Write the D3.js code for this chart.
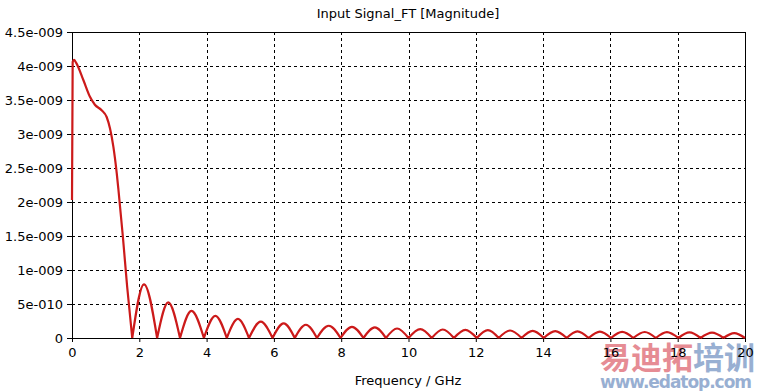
<!DOCTYPE html>
<html>
<head>
<meta charset="utf-8">
<script src="https://cdn.jsdelivr.net/npm/d3@7"></script>
<style>
  body { margin: 0; background: #fff; }
  svg { display: block; font-family: "DejaVu Sans", sans-serif; }
</style>
</head>
<body>
<svg id="chart" width="759" height="391"></svg>
<script>
// frequency in GHz, magnitude in units of 1e-9
const freq = [
  0, 0.02, 0.06, 0.12, 0.34, 0.53, 0.68, 0.88, 1.03, 1.13, 1.23, 1.33, 1.38, 1.51, 1.64, 1.79,
  2.14, 2.53, 2.86, 3.21, 3.55, 3.92, 4.26, 4.60, 4.93, 5.26, 5.61, 5.96, 6.29, 6.62,
  6.95, 7.28, 7.63, 7.98, 8.32, 8.66, 9.00, 9.33, 9.66, 10.00, 10.35, 10.69, 11.02, 11.35,
  11.69, 12.03, 12.36, 12.68, 13.02, 13.36, 13.69, 14.02, 14.36, 14.70, 15.02, 15.35,
  15.69, 16.02, 16.35, 16.68, 17.02, 17.35, 17.68, 18.02, 18.35, 18.68, 19.02, 19.36,
  19.68, 20.00
];
const magnitude = [
  2.03, 4.06, 4.09, 4.05, 3.79, 3.55, 3.43, 3.35, 3.25, 3.08, 2.81, 2.42, 2.18, 1.50, 0.75, 0,
  0.79, 0, 0.525, 0, 0.40, 0, 0.325, 0, 0.28, 0, 0.24, 0, 0.215, 0,
  0.195, 0, 0.18, 0, 0.165, 0, 0.155, 0, 0.14, 0, 0.13, 0, 0.125, 0,
  0.12, 0, 0.115, 0, 0.11, 0, 0.105, 0, 0.10, 0, 0.098, 0,
  0.095, 0, 0.09, 0, 0.088, 0, 0.085, 0, 0.082, 0, 0.078, 0,
  0.072, 0
];
const xTicks = [0, 2, 4, 6, 8, 10, 12, 14, 16, 18, 20];
const yTicks = [0, 0.5, 1, 1.5, 2, 2.5, 3, 3.5, 4, 4.5];
const yTickLabels = ['0', '5e-010', '1e-009', '1.5e-009', '2e-009', '2.5e-009', '3e-009', '3.5e-009', '4e-009', '4.5e-009'];

const svg = d3.select('#chart');
const width = +svg.attr('width');
const height = +svg.attr('height');
const margin = {top: 32, right: 14, bottom: 53, left: 72};

const x = d3.scaleLinear().domain([0, 20]).range([margin.left, width - margin.right]);
const y = d3.scaleLinear().domain([0, 4.5]).range([height - margin.bottom, margin.top]);

// watermark (under everything else)
const wm = svg.append('g').attr('opacity', 0.8);
wm.append('text')
  .attr('x', 600).attr('y', 369)
  .style('font-size', '31px').style('font-weight', 'bold')
  .style('font-family', '"Noto Sans CJK SC", sans-serif')
  .html('<tspan fill="#e0707a">易迪拓</tspan><tspan fill="#7f9cc8">培训</tspan>');
wm.append('text')
  .attr('x', 600).attr('y', 388)
  .attr('fill', '#7f9cc8')
  .attr('textLength', 152)
  .style('font-size', '17px').style('font-weight', 'bold')
  .style('font-family', '"DejaVu Sans", sans-serif')
  .text('www.edatop.com');

// grid
const grid = svg.append('g').attr('stroke', '#000').attr('stroke-dasharray', '3,3').attr('shape-rendering', 'crispEdges');
grid.selectAll('.vg').data(xTicks.slice(1, -1)).enter().append('line')
  .attr('x1', d => Math.round(x(d)) + 0.5).attr('x2', d => Math.round(x(d)) + 0.5)
  .attr('y1', y(4.5)).attr('y2', y(0));
grid.selectAll('.hg').data(yTicks.slice(1, -1)).enter().append('line')
  .attr('y1', d => Math.round(y(d)) + 0.5).attr('y2', d => Math.round(y(d)) + 0.5)
  .attr('x1', x(0)).attr('x2', x(20));

// frame (top and right)
svg.append('path')
  .attr('d', `M${x(0)},${y(4.5) + 0.5}H${x(20) + 0.5}V${y(0)}`)
  .attr('fill', 'none').attr('stroke', '#000').attr('shape-rendering', 'crispEdges');

// axes
const xAxis = svg.append('g')
  .attr('transform', `translate(0,${y(0)})`)
  .call(d3.axisBottom(x).tickValues(xTicks).tickSize(4).tickPadding(6).tickSizeOuter(0));
const yAxis = svg.append('g')
  .attr('transform', `translate(${x(0)},0)`)
  .call(d3.axisLeft(y).tickValues(yTicks).tickFormat((d, i) => yTickLabels[i]).tickSize(5).tickPadding(4).tickSizeOuter(0));
[xAxis, yAxis].forEach(a => {
  a.select('.domain').attr('stroke', '#000');
  a.selectAll('.tick line').attr('stroke', '#000');
  a.selectAll('text').attr('fill', '#000').style('font-size', '13px').style('font-family', '"DejaVu Sans", sans-serif');
});

// curve, split into lobes at the zeros
const pts = freq.map((f, i) => [f, magnitude[i]]);
const segments = [];
let cur = [];
pts.forEach((p, i) => {
  cur.push(p);
  if (p[1] === 0 && i < pts.length - 1) {
    segments.push(cur);
    cur = [p];
  }
});
if (cur.length > 1) segments.push(cur);

const line = d3.line().x(d => x(d[0])).y(d => y(d[1])).curve(d3.curveMonotoneX);
svg.append('path')
  .attr('d', segments.map(s => line(s)).join(''))
  .attr('fill', 'none')
  .attr('stroke', '#cc1a1a')
  .attr('stroke-width', 2.2)
  .attr('stroke-linejoin', 'round');

// titles
svg.append('text')
  .attr('x', 408).attr('y', 18)
  .attr('text-anchor', 'middle')
  .style('font-size', '13px')
  .text('Input Signal_FT [Magnitude]');
svg.append('text')
  .attr('x', 408).attr('y', 385)
  .attr('text-anchor', 'middle')
  .style('font-size', '13px')
  .text('Frequency / GHz');
</script>
</body>
</html>
